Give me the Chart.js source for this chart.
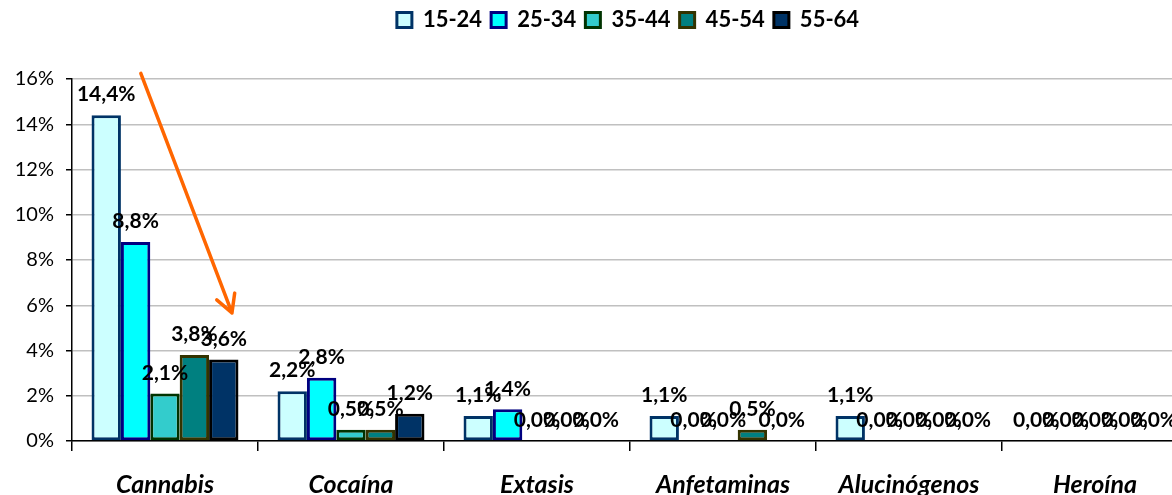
<!DOCTYPE html>
<html>
<head>
<meta charset="utf-8">
<script src="https://cdn.jsdelivr.net/npm/chart.js@4.4.0/dist/chart.umd.min.js"></script>
<style>
    html, body { margin: 0; padding: 0; background: #fff; overflow: hidden; }
    #wrap { width: 1172px; height: 495px; overflow: hidden; }
    #caja { width: 1190px; height: 495px; position: relative; }
</style>
</head>
<body>
<div id="wrap"><div id="caja"><canvas id="grafico"></canvas></div></div>
<script>
// Datos del gráfico
const categorias = ['Cannabis', 'Cocaína', 'Extasis', 'Anfetaminas', 'Alucinógenos', 'Heroína'];
const edades = ['15-24', '25-34', '35-44', '45-54', '55-64'];
const v15_24 = [14.4, 2.2, 1.1, 1.1, 1.1, 0.0];
const v25_34 = [8.8, 2.8, 1.4, 0.0, 0.0, 0.0];
const v35_44 = [2.1, 0.5, 0.0, 0.0, 0.0, 0.0];
const v45_54 = [3.8, 0.5, 0.0, 0.5, 0.0, 0.0];
const v55_64 = [3.6, 1.2, 0.0, 0.0, 0.0, 0.0];
const ticksY = [0, 2, 4, 6, 8, 10, 12, 14, 16];

const series = [v15_24, v25_34, v35_44, v45_54, v55_64];
const rellenos = ['#CCFFFF', '#00FFFF', '#33CCCC', '#008080', '#003366'];
const bordes = ['#003366', '#000080', '#003300', '#333300', '#000000'];

const fuente = 'Lato, "Open Sans", sans-serif';

// Reservar espacio bajo la leyenda y desplazarla un poco a la derecha
const espacioLeyenda = {
    id: 'espacioLeyenda',
    beforeInit(chart) {
        const fitOriginal = chart.legend.fit;
        chart.legend.fit = function () {
            fitOriginal.call(this);
            this.height = 79;
        };
    },
    afterLayout(chart) {
        chart.legend.left += 34;
        chart.legend.right += 34;
    }
};

// Etiquetas de valor encima de cada barra (formato con coma)
const etiquetas = {
    id: 'etiquetas',
    afterDatasetsDraw(chart) {
        const ctx = chart.ctx;
        ctx.save();
        ctx.font = 'bold 21px ' + fuente;
        ctx.fillStyle = '#000';
        ctx.textAlign = 'center';
        ctx.textBaseline = 'bottom';
        chart.data.datasets.forEach((ds, i) => {
            chart.getDatasetMeta(i).data.forEach((bar, j) => {
                const txt = ds.data[j].toFixed(1).replace('.', ',') + '%';
                ctx.fillText(txt, bar.x, bar.y - 10);
            });
        });
        ctx.restore();
    }
};

// Flecha naranja sobre el grupo Cannabis
const flecha = {
    id: 'flecha',
    afterDraw(chart) {
        const x = chart.scales.x, y = chart.scales.y;
        const x0 = x.getPixelForValue(-0.13), y0 = y.getPixelForValue(16.25);
        const x1 = x.getPixelForValue(0.36), y1 = y.getPixelForValue(5.66);
        const ang = Math.atan2(y1 - y0, x1 - x0);
        const ctx = chart.ctx;
        ctx.save();
        ctx.strokeStyle = '#FF6600';
        ctx.lineWidth = 3.5;
        ctx.lineCap = 'round';
        ctx.beginPath();
        ctx.moveTo(x0, y0);
        ctx.lineTo(x1, y1);
        [0.5, -0.5].forEach(d => {
            ctx.moveTo(x1, y1);
            ctx.lineTo(x1 - 20 * Math.cos(ang + d), y1 - 20 * Math.sin(ang + d));
        });
        ctx.stroke();
        ctx.restore();
    }
};

new Chart(document.getElementById('grafico'), {
    type: 'bar',
    data: {
        labels: categorias,
        datasets: series.map((s, i) => ({
            label: edades[i],
            data: s,
            backgroundColor: rellenos[i],
            borderColor: bordes[i],
            borderWidth: 3,
            borderSkipped: false,
            categoryPercentage: 0.79,
            barPercentage: 1
        }))
    },
    options: {
        responsive: true,
        maintainAspectRatio: false,
        animation: false,
        layout: { padding: { top: 0, right: 2, left: 0, bottom: 0 } },
        plugins: {
            legend: {
                position: 'top',
                labels: {
                    color: '#000',
                    boxWidth: 15,
                    boxHeight: 15,
                    padding: 9,
                    font: { family: fuente, size: 22, weight: 'bold' }
                }
            },
            tooltip: { enabled: false }
        },
        scales: {
            y: {
                min: 0,
                max: 16,
                afterFit(scale) { scale.width = 72; },
                afterBuildTicks(scale) { scale.ticks = ticksY.map(v => ({ value: v })); },
                ticks: {
                    color: '#000',
                    padding: 12,
                    font: { family: fuente, size: 20 },
                    callback: v => v + '%'
                },
                grid: {
                    color: '#c0c0c0',
                    lineWidth: 1.5,
                    tickColor: '#000',
                    tickLength: 6
                },
                border: { color: '#000', width: 1.5 }
            },
            x: {
                afterFit(scale) { scale.height = 54; },
                ticks: {
                    color: '#000',
                    padding: 19,
                    font: { family: fuente, size: 25, weight: 'bold', style: 'italic' }
                },
                grid: {
                    offset: true,
                    drawOnChartArea: false,
                    tickColor: '#000',
                    tickLength: 10,
                    lineWidth: 1.5
                },
                border: { color: '#000', width: 1.5 }
            }
        }
    },
    plugins: [espacioLeyenda, etiquetas, flecha]
});
</script>
</body>
</html>
